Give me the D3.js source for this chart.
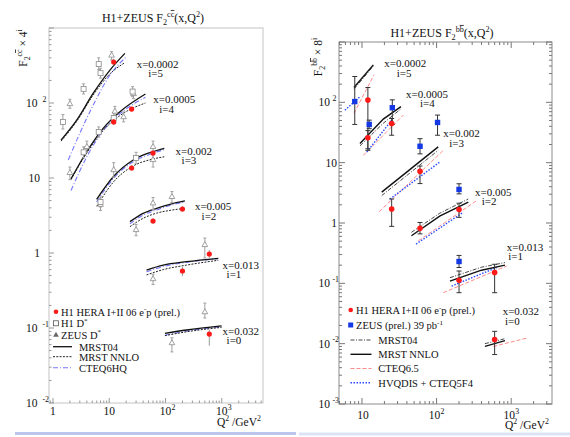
<!DOCTYPE html>
<html><head><meta charset="utf-8">
<script src="https://cdn.jsdelivr.net/npm/d3@7"></script>
<style>
body{margin:0;background:#fff}
svg{display:block}
text{fill:#111}
</style>
</head><body>
<svg id="chart" width="570" height="437"></svg>
<script>
// ---------------- Charm panel: F2 ccbar x 4^i ----------------
const charmBinX = ["0.0002","0.0005","0.002","0.005","0.013","0.032"];
const charmBinI = [5,4,3,2,1,0];
// [i, Q2, value, low, high]
const charmH1 = [
  [5,12,352,318,390],
  [4,12,56,51,61],[4,25,83,77,89],
  [3,25,13.6,12.5,14.8],[3,60,21.5,19.9,23.2],
  [2,60,2.67,2.45,2.9],[2,200,3.86,3.55,4.2],
  [1,200,0.575,0.49,0.65],[1,600,0.97,0.86,1.1],
  [0,600,0.083,0.058,0.095]
];
const charmH1Dstar = [
  [5,1.5,56,45,70],[5,3.5,154,132,180],[5,6.5,330,280,400],[5,7,250,215,290],
  [4,3.5,22,18.5,26],[4,6.5,41,35,48],[4,12,63,54,74],[4,26,142,121,165],
  [3,7,4.8,4.1,5.6],[3,30,18.5,15.5,22]
];
const charmZeusDstar = [
  [5,2,97,85,112],[5,11,430,374,483],
  [4,2,11.7,9.5,14],[4,4,26,22,31],[4,12.6,77,66,90],[4,18,65,56,76],[4,27,132,114,152],
  [3,7,4.4,3.7,5.2],[3,12,12.8,10.2,16],[3,60,26,21,31],[3,60,17.4,14,21],
  [2,30,2.03,1.7,2.4],[2,60,4.6,3.8,5.5],[2,130,5.6,4.7,6.6],
  [1,60,0.45,0.38,0.52],[1,500,1.28,0.86,1.58],
  [0,130,0.063,0.048,0.074],[0,500,0.163,0.136,0.215]
];
// theory curves, one list of [Q2, value] per bin (i = 5..0)
const charmMRST04 = [
  [[1.39,32],[2.64,59],[5.2,135],[10.3,275],[19,459]],
  [[2.09,9.7],[3.97,22.4],[7.8,46],[15.5,76.6],[44,132]],
  [[5.97,5.2],[11.8,10.4],[26.7,17.4],[52.8,21.8],[95,24.9]],
  [[23.3,2.62],[40,3.38],[69.5,3.94],[120,4.46],[221,4.94]],
  [[46,0.593],[91,0.69],[237,0.766],[865,0.85]],
  [[97.5,0.085],[237,0.094],[991,0.107]]
];
const charmMRSTNNLO = [
  [[1.39,31],[2.64,57],[5.2,128],[10.3,245],[19,345]],
  [[2.09,9.5],[3.97,21.5],[7.8,43],[15.5,68],[44,100]],
  [[6,4.2],[11.8,8.8],[26.7,14.5],[52.8,17.5],[95,19.2]],
  [[23.3,2.24],[40,2.9],[69.5,3.4],[120,3.7],[221,3.94]],
  [[46,0.51],[91,0.6],[237,0.69],[865,0.8]],
  [[97.5,0.079],[237,0.089],[991,0.102]]
];
const charmCTEQ6HQ = [
  [[1.87,17.4],[3.0,39.5],[5.2,94],[10.3,236],[20.4,415]],
  [[2.09,6.8],[3.97,19],[7.8,43],[15.5,72],[44,119]],
  [[5.97,4.8],[11.8,9.8],[26.7,16.5],[52.8,20.7],[95,23.8]],
  [[23.3,2.45],[40,3.2],[69.5,3.75],[120,4.3],[221,4.8]],
  [[46,0.56],[91,0.66],[237,0.75],[865,0.84]],
  [[97.5,0.08],[237,0.091],[991,0.104]]
];
// bin-label anchors in data units [Q2, F2], and indent of the "i=" line
const charmLabelAt = [[30.7,293,11.6],[60.5,100,6],[151,20.3,6],[333,3.74,6.7],[1033,0.612,4],[1033,0.0807,4]];

// ---------------- Beauty panel: F2 bbbar x 8^i ----------------
const beautyBinX = ["0.0002","0.0005","0.002","0.005","0.013","0.032"];
const beautyBinI = [5,4,3,2,1,0];
const beautyH1 = [
  [5,12,109,17,176],
  [4,12,25.8,16,34],[4,25,44.7,28.5,54],
  [3,25,1.71,0.88,2.5],[3,60,7.2,4.5,8.8],
  [2,60,0.815,0.66,1.02],[2,200,1.67,1.24,2.13],
  [1,200,0.112,0.07,0.16],[1,600,0.151,0.07,0.207],
  [0,600,0.0117,0.0066,0.016]
];
const beautyZeus = [
  [5,8,103,43,268],
  [4,12.5,43,36.6,50.7],[4,25.5,81.5,43,110],
  [3,103,46.4,28.5,61.5],[3,60,18.7,14,25],
  [2,200,3.6,3.04,4.47],
  [1,200,0.23,0.183,0.29]
];
const beautyMRST04 = [
  [[7.8,165],[14.2,400]],
  [[9.4,19],[19.3,45],[33.3,78]],
  [[18.4,2.85],[105,16]],
  [[46,0.7],[110,1.45],[266,2.5]],
  [[151,0.124],[400,0.185],[826,0.221]],
  [[445,0.01],[826,0.0121]]
];
const beautyMRSTNNLO = [
  [[7.8,176],[14.2,418]],
  [[9.4,20.7],[19.3,52.7],[33.3,84.7]],
  [[18.4,3.25],[105,18.3]],
  [[46,0.614],[110,1.3],[266,2.21]],
  [[151,0.109],[400,0.165],[826,0.2]],
  [[445,0.009],[826,0.0112]]
];
const beautyCTEQ65 = [
  [[7.8,65.6],[14.5,285]],
  [[10.4,13.2],[35.8,61.5]],
  [[17,1.54],[123,16]],
  [[57,0.507],[345,2.35]],
  [[123,0.07],[870,0.194]],
  [[576,0.009],[1630,0.0124]]
];
const beautyHVQDIS = [
  [[5.9,74],[9.4,124]],
  [[11.6,15],[25,50.7]],
  [[23.7,2.5],[111,10.3]],
  [[53,0.447],[228,1.51]],
  [[159,0.09],[640,0.183]]
];
const beautyLabelAt = [[19.9,385,12.4],[38.9,118,14],[123,26.6,6],[327,2.81,6.7],[871,0.344,1.6],[769,0.0298,2.3]];

// ---------------- font choice: first installed Times-like face ----------------
function hasFont(name){
  const c = document.createElement("canvas").getContext("2d");
  const s = "MRST NNLO x=0.0002 WwMmIil";
  c.font = "40px monospace"; const a = c.measureText(s).width;
  c.font = `40px "${name}", monospace`; const b = c.measureText(s).width;
  return Math.abs(a - b) > 0.5;
}
const serifFaces = ["Liberation Serif","Tinos","Times New Roman","Nimbus Roman","DejaVu Serif","Noto Serif"];
const serifFace = serifFaces.find(hasFont) || "serif";
const FS = serifFace === "DejaVu Serif" || serifFace === "Noto Serif" ? 0.86 : 1;

// ---------------- drawing helpers ----------------
const svg = d3.select("#chart").attr("font-family", `"${serifFace}", serif`);

function rich(sel, parts, size){
  size *= FS;
  sel.attr("font-size", size);
  let cur = 0;
  parts.forEach(([s,k]) => {
    const target = k === "sub" ? size*0.28 : (k === "sup" || k === "supo") ? -size*0.42 : 0;
    const ts = sel.append("tspan").attr("dy", target - cur).attr("font-size", k === "n" ? size : size*0.68).text(s);
    if (k === "supo") ts.style("text-decoration", "overline");
    cur = target;
  });
  return sel;
}

function powLabel(g, e, x, y, anchor, size, supGap){
  size *= FS;
  const t = g.append("text").attr("y", y).attr("font-size", size);
  if (e === 0 || e === 1){
    t.attr("x", x).attr("text-anchor", anchor).text(e === 0 ? "1" : "10");
  } else {
    t.attr("x", x).attr("text-anchor", anchor).text("10");
    g.append("text").attr("x", x + supGap).attr("y", y - size*0.45)
      .attr("font-size", size*0.68).text(String(e));
  }
}

function frame(g, x, y, cfg){
  const [x0,x1] = x.range(), [y0,y1] = y.range(); // y0 bottom, y1 top
  g.append("rect").attr("x",x0).attr("y",y1).attr("width",x1-x0).attr("height",y0-y1)
    .attr("fill","none").attr("stroke",cfg.frameColor).attr("stroke-width",1);
  const tg = g.append("g").attr("stroke",cfg.tickColor).attr("stroke-width",1);
  const ticks = (dom) => {
    const out = [];
    for (let d = Math.floor(Math.log10(dom[0])); d <= Math.ceil(Math.log10(dom[1])); d++)
      for (let m = 1; m <= 9; m++){
        const v = m*Math.pow(10,d);
        if (v >= dom[0] && v <= dom[1]) out.push([v, m === 1]);
      }
    return out;
  };
  ticks(x.domain()).forEach(([v,maj]) => {
    const p = x(v), L = maj ? cfg.major : cfg.minor;
    tg.append("line").attr("x1",p).attr("x2",p).attr("y1",y0).attr("y2",y0-L);
    if (cfg.allSides) tg.append("line").attr("x1",p).attr("x2",p).attr("y1",y1).attr("y2",y1+L);
  });
  ticks(y.domain()).forEach(([v,maj]) => {
    const p = y(v), L = maj ? cfg.major : cfg.minor;
    tg.append("line").attr("x1",x0).attr("x2",x0+L).attr("y1",p).attr("y2",p);
    if (cfg.allSides) tg.append("line").attr("x1",x1).attr("x2",x1-L).attr("y1",p).attr("y2",p);
  });
}

function curves(g, x, y, sets, style, curveType){
  const line = d3.line().x(d => x(d[0])).y(d => y(d[1])).curve(curveType);
  sets.forEach(pts => {
    g.append("path").attr("d", line(pts)).attr("fill","none")
      .attr("stroke",style.color).attr("stroke-width",style.width)
      .attr("stroke-dasharray",style.dash || null);
  });
}

function errBars(g, x, y, rows, color, cap){
  rows.forEach(r => {
    const px = x(r[1]);
    g.append("line").attr("x1",px).attr("x2",px).attr("y1",y(r[3])).attr("y2",y(r[4]))
      .attr("stroke",color).attr("stroke-width",1);
    if (cap > 0) [r[3], r[4]].forEach(v => g.append("line").attr("x1",px-cap).attr("x2",px+cap)
      .attr("y1",y(v)).attr("y2",y(v)).attr("stroke",color).attr("stroke-width",1));
  });
}

function binLabels(g, x, y, anchors, binX, binI, size){
  anchors.forEach((a,k) => {
    const px = x(a[0]), py = y(a[1]);
    g.append("text").attr("x",px).attr("y",py).attr("font-size",size*FS).text("x=" + binX[k]);
    g.append("text").attr("x",px + a[2]).attr("y",py + 9.5).attr("font-size",size*FS).text("i=" + binI[k]);
  });
}

// ================= charm panel =================
{
  const g = svg.append("g");
  const x = d3.scaleLog().domain([0.85, 5400]).range([49, 263]);
  const y = d3.scaleLog().domain([0.01, 1000]).range([403, 28]);
  frame(g, x, y, {frameColor:"#c4c4c4", tickColor:"#9a9a9a", major:5, minor:2.5, allSides:false});

  [-2,-1,0,1,2].forEach(e => powLabel(g, e, e <= 1 && e >= 0 ? 40 : 37.5, y(Math.pow(10,e)) + 4, "end", 11.5, 5));
  [0,1].forEach(e => powLabel(g, e, x(Math.pow(10,e)), 415, "middle", 11.5, 0));
  [2,3].forEach(e => powLabel(g, e, x(Math.pow(10,e)), 415, "middle", 11.5, 6));
  rich(g.append("text").attr("x",217).attr("y",426), [["Q","n"],["2","sup"],[" /GeV","n"],["2","sup"]], 11.5);
  rich(g.append("text").attr("x",153).attr("y",22).attr("text-anchor","middle"),
    [["H1+ZEUS F","n"],["2","sub"],["c","sup"],["c","supo"],["(x,Q","n"],["2","sup"],[")","n"]], 12);
  rich(g.append("text").attr("transform","translate(27,48) rotate(-90)").attr("text-anchor","middle"),
    [["F","n"],["2","sub"],["c","sup"],["c","supo"],[" × 4","n"],["i","sup"]], 11.5);

  // theory curves
  curves(g, x, y, charmCTEQ6HQ, {color:"#7777ff", width:1.1, dash:"5,2,1,2"}, d3.curveMonotoneX);
  curves(g, x, y, charmMRSTNNLO, {color:"#222", width:1, dash:"2,1.3"}, d3.curveMonotoneX);
  curves(g, x, y, charmMRST04, {color:"#111", width:1.3}, d3.curveMonotoneX);

  // measurements
  errBars(g, x, y, charmZeusDstar, "#a0a0a0", 1.5);
  errBars(g, x, y, charmH1Dstar, "#a0a0a0", 1.5);
  g.selectAll(null).data(charmZeusDstar).join("path")
    .attr("d", d3.symbol(d3.symbolTriangle, 14))
    .attr("transform", r => `translate(${x(r[1])},${y(r[2])})`)
    .attr("fill","#fff").attr("stroke","#8a8a8a").attr("stroke-width",0.8);
  g.selectAll(null).data(charmH1Dstar).join("rect")
    .attr("x", r => x(r[1]) - 2.5).attr("y", r => y(r[2]) - 2.5).attr("width",5).attr("height",5)
    .attr("fill","#fff").attr("stroke","#8a8a8a").attr("stroke-width",0.8);
  errBars(g, x, y, charmH1, "#999", 0);
  g.selectAll(null).data(charmH1).join("circle")
    .attr("cx", r => x(r[1])).attr("cy", r => y(r[2])).attr("r",2.6).attr("fill","#ff1a1a");

  binLabels(g, x, y, charmLabelAt, charmBinX, charmBinI, 11);

  // legend
  const L = g.append("g");
  L.append("circle").attr("cx",56).attr("cy",311.7).attr("r",2.3).attr("fill","#ff1a1a");
  rich(L.append("text").attr("x",61).attr("y",315.5), [["H1 HERA I+II 06 e","n"],["-","sup"],["p (prel.)","n"]], 10.5);
  L.append("rect").attr("x",53.5).attr("y",320.8).attr("width",5).attr("height",5).attr("fill","#fff").attr("stroke","#555").attr("stroke-width",0.8);
  rich(L.append("text").attr("x",61).attr("y",327), [["H1 D","n"],["*","sup"]], 10.5);
  L.append("path").attr("d", d3.symbol(d3.symbolTriangle, 14)).attr("transform","translate(56,335)").attr("fill","#666");
  rich(L.append("text").attr("x",61).attr("y",338.5), [["ZEUS D","n"],["*","sup"]], 10.5);
  const legLines = [["MRST04",346.7,{color:"#111",width:1.3}],["MRST NNLO",356.7,{color:"#222",width:1,dash:"2,1.3"}],["CTEQ6HQ",367.7,{color:"#7777ff",width:1.1,dash:"5,2,1,2"}]];
  legLines.forEach(([name,yy,st]) => {
    L.append("line").attr("x1",53).attr("x2",72).attr("y1",yy).attr("y2",yy)
      .attr("stroke",st.color).attr("stroke-width",st.width).attr("stroke-dasharray",st.dash||null);
    L.append("text").attr("x",79).attr("y",yy+3.8).attr("font-size",10.5*FS).text(name);
  });
}

// ================= beauty panel =================
{
  const g = svg.append("g");
  const x = d3.scaleLog().domain([4.92, 3525]).range([339, 552]);
  const y = d3.scaleLog().domain([0.001, 1000]).range([404, 42]);
  frame(g, x, y, {frameColor:"#8c8c8c", tickColor:"#777", major:6, minor:3, allSides:true});

  [-3,-2,-1,2].forEach(e => powLabel(g, e, 330, y(Math.pow(10,e)) + 4, "end", 11.5, 2.5));
  [0,1].forEach(e => powLabel(g, e, 337, y(Math.pow(10,e)) + 4, "end", 11.5, 0));
  powLabel(g, 1, x(10) + 1, 419, "middle", 11.5, 0);
  [2,3].forEach(e => powLabel(g, e, x(Math.pow(10,e)) - 2, 419, "middle", 11.5, 6));
  rich(g.append("text").attr("x",505).attr("y",429), [["Q","n"],["2","sup"],[" /GeV","n"],["2","sup"]], 11.5);
  rich(g.append("text").attr("x",442).attr("y",37).attr("text-anchor","middle"),
    [["H1+ZEUS F","n"],["2","sub"],["b","sup"],["b","supo"],["(x,Q","n"],["2","sup"],[")","n"]], 12);
  rich(g.append("text").attr("transform","translate(322,57) rotate(-90)").attr("text-anchor","middle"),
    [["F","n"],["2","sub"],["b","sup"],["b","supo"],[" × 8","n"],["i","sup"]], 11.5);

  curves(g, x, y, beautyCTEQ65, {color:"#ff8a8a", width:1, dash:"4,2"}, d3.curveLinear);
  curves(g, x, y, beautyHVQDIS, {color:"#2a4bff", width:1.4, dash:"1.5,1.5"}, d3.curveLinear);
  curves(g, x, y, beautyMRST04, {color:"#333", width:0.9, dash:"4,1.5,1,1.5"}, d3.curveLinear);
  curves(g, x, y, beautyMRSTNNLO, {color:"#111", width:1.4}, d3.curveLinear);

  errBars(g, x, y, beautyH1, "#333", 2.5);
  errBars(g, x, y, beautyZeus, "#333", 2.5);
  g.selectAll(null).data(beautyZeus).join("rect")
    .attr("x", r => x(r[1]) - 2.7).attr("y", r => y(r[2]) - 2.7).attr("width",5.4).attr("height",5.4)
    .attr("fill","#1438e6");
  g.selectAll(null).data(beautyH1).join("circle")
    .attr("cx", r => x(r[1])).attr("cy", r => y(r[2])).attr("r",2.8).attr("fill","#ff1a1a");

  binLabels(g, x, y, beautyLabelAt, beautyBinX, beautyBinI, 11);

  const L = g.append("g");
  L.append("circle").attr("cx",350.7).attr("cy",310).attr("r",2.3).attr("fill","#ff1a1a");
  rich(L.append("text").attr("x",356).attr("y",314), [["H1 HERA I+II 06 e","n"],["-","sup"],["p  (prel.)","n"]], 10.5);
  L.append("rect").attr("x",348.2).attr("y",322.5).attr("width",5).attr("height",5).attr("fill","#1438e6");
  rich(L.append("text").attr("x",356).attr("y",329), [["ZEUS (prel.) 39 pb","n"],["-1","sup"]], 10.5);
  const legLines = [
    ["MRST04",340,{color:"#333",width:0.9,dash:"4,1.5,1,1.5"}],
    ["MRST NNLO",354.3,{color:"#111",width:1.4}],
    ["CTEQ6.5",368.5,{color:"#ff8a8a",width:1,dash:"4,2"}],
    ["HVQDIS + CTEQ5F4",382.7,{color:"#2a4bff",width:1.4,dash:"1.5,1.5"}]
  ];
  legLines.forEach(([name,yy,st]) => {
    L.append("line").attr("x1",350.5).attr("x2",371.5).attr("y1",yy).attr("y2",yy)
      .attr("stroke",st.color).attr("stroke-width",st.width).attr("stroke-dasharray",st.dash||null);
    L.append("text").attr("x",378.3).attr("y",yy+3.8).attr("font-size",10.5*FS).text(name);
  });
}

// slide footer bars under each figure
svg.append("rect").attr("x",15).attr("y",432).attr("width",281).attr("height",3).attr("fill","#bcc6ec");
svg.append("rect").attr("x",299).attr("y",432.5).attr("width",271).attr("height",3).attr("fill","#dce3f5");
</script>
</body></html>
